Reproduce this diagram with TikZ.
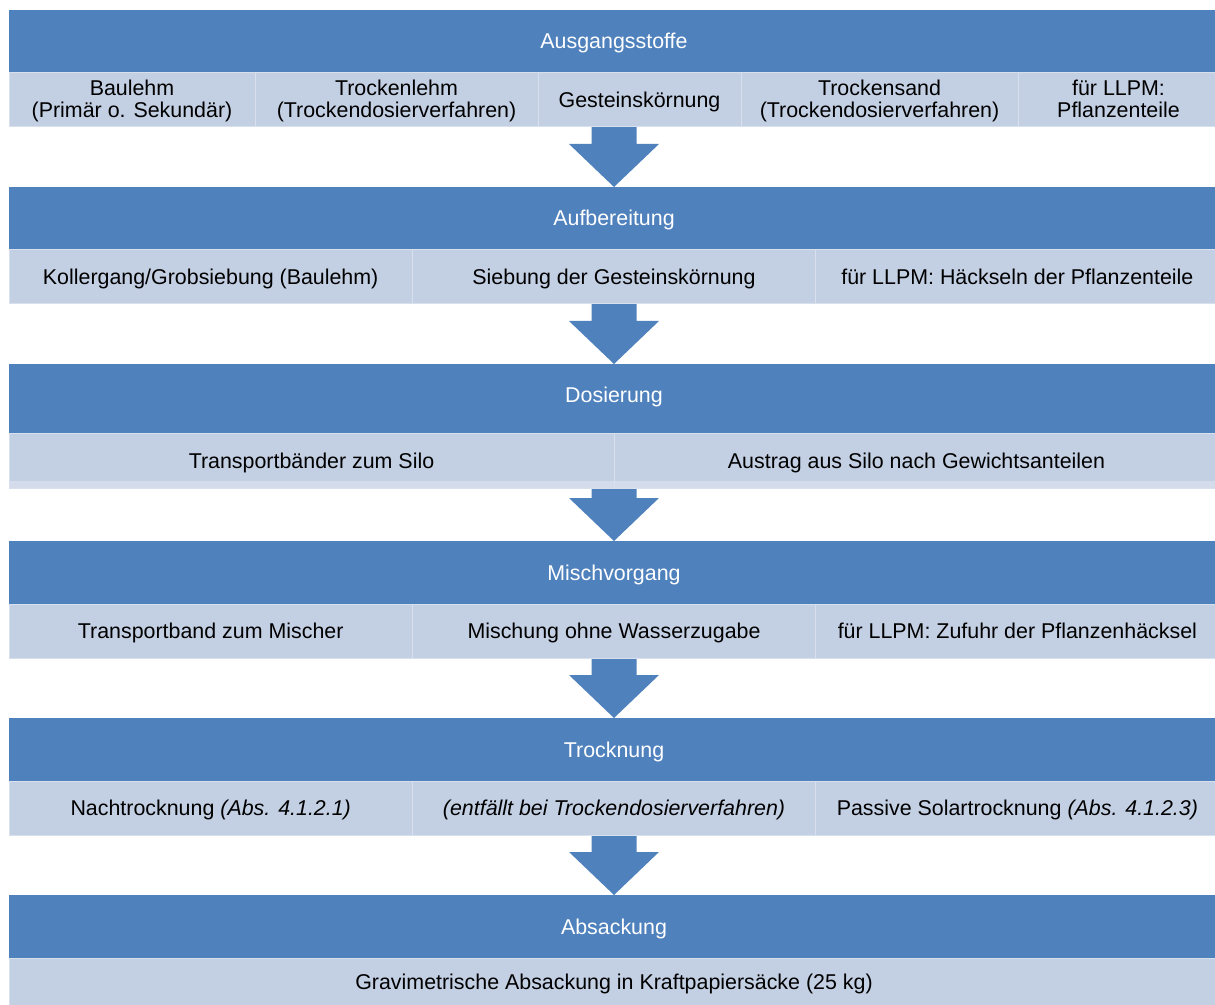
\documentclass[tikz,border=0pt]{standalone}
\usepackage{fontspec}
\setmainfont{Liberation Sans}
\usepackage{tikz}
\usetikzlibrary{positioning, backgrounds}

\definecolor{kopfblau}{HTML}{4F81BD}
\definecolor{zeilenblau}{HTML}{C3CFE3}
\definecolor{blassblau}{HTML}{D4DCEB}

% Blockpfeil von einem Knoten zum naechsten
\newcommand{\pfeil}[2]{%
  \fill[kopfblau] ([xshift=-11.25pt]#1) -- ([xshift=-11.25pt,yshift=21.5pt]#2)
    -- ([xshift=-22.5pt,yshift=21.5pt]#2) -- (#2)
    -- ([xshift=22.5pt,yshift=21.5pt]#2) -- ([xshift=11.25pt,yshift=21.5pt]#2)
    -- ([xshift=11.25pt]#1) -- cycle;}
% zweizeiliger Zellentext
\newcommand{\zweizeilen}[2]{\rule{0pt}{9.25pt}#1\\#2\rule[-2.5pt]{0pt}{2.5pt}}

\begin{document}
\begin{tikzpicture}[
          font=\fontsize{10.7}{11}\selectfont,
          kopf/.style = {fill=kopfblau, text=white, minimum width=605pt, minimum height=31.5pt, inner sep=0pt, outer sep=0pt, text height=7.5pt, text depth=0pt},
          zelle/.style = {fill=zeilenblau, draw=white!35!zeilenblau, line width=0.5pt, minimum height=27pt, inner sep=0pt, outer sep=0pt, align=center},
          einzeilig/.style = {text height=7.5pt, text depth=0pt},
          blassrand/.style = {path picture={\fill[blassblau] (path picture bounding box.south west) rectangle ([yshift=3.5pt]path picture bounding box.south east);}}
         ]
        \useasboundingbox (0,0) rectangle (607.5pt,-502.5pt);

        % Ausgangsstoffe
        \node[kopf, anchor=north west] (kopf1) at (4.5pt,-5pt) {Ausgangsstoffe};
        \node[zelle, minimum width=123pt, below right=0pt and 0pt of kopf1.south west] (stoff1) {\zweizeilen{Baulehm}{(Primär o. Sekundär)}};
        \node[zelle, minimum width=141.5pt, right=0pt of stoff1] (stoff2) {\zweizeilen{Trockenlehm}{(Trockendosierverfahren)}};
        \node[zelle, einzeilig, minimum width=101.5pt, right=0pt of stoff2] (stoff3) {Gesteinskörnung};
        \node[zelle, minimum width=138.5pt, right=0pt of stoff3] (stoff4) {\zweizeilen{Trockensand}{(Trockendosierverfahren)}};
        \node[zelle, minimum width=100.5pt, right=0pt of stoff4] (stoff5) {\zweizeilen{für LLPM:}{Pflanzenteile}};

        % Aufbereitung
        \node[kopf, below=57pt of kopf1] (kopf2) {Aufbereitung};
        \node[zelle, einzeilig, minimum width=201.67pt, below right=0pt and 0pt of kopf2.south west] (auf1) {Kollergang/Grobsiebung (Baulehm)};
        \node[zelle, einzeilig, minimum width=201.67pt, right=0pt of auf1] (auf2) {Siebung der Gesteinskörnung};
        \node[zelle, einzeilig, minimum width=201.67pt, right=0pt of auf2] (auf3) {für LLPM: Häckseln der Pflanzenteile};

        % Dosierung
        \node[kopf, minimum height=35pt, text depth=4pt, below=57pt of kopf2] (kopf3) {Dosierung};
        \node[zelle, einzeilig, blassrand, minimum width=302.5pt, below right=0pt and 0pt of kopf3.south west] (dos1) {Transportbänder zum Silo};
        \node[zelle, einzeilig, blassrand, minimum width=302.5pt, right=0pt of dos1] (dos2) {Austrag aus Silo nach Gewichtsanteilen};

        % Mischvorgang
        \node[kopf, below=53.5pt of kopf3] (kopf4) {Mischvorgang};
        \node[zelle, einzeilig, minimum width=201.67pt, below right=0pt and 0pt of kopf4.south west] (misch1) {Transportband zum Mischer};
        \node[zelle, einzeilig, minimum width=201.67pt, right=0pt of misch1] (misch2) {Mischung ohne Wasserzugabe};
        \node[zelle, einzeilig, minimum width=201.67pt, right=0pt of misch2] (misch3) {für LLPM: Zufuhr der Pflanzenhäcksel};

        % Trocknung
        \node[kopf, below=57pt of kopf4] (kopf5) {Trocknung};
        \node[zelle, einzeilig, minimum width=201.67pt, below right=0pt and 0pt of kopf5.south west] (trock1) {Nachtrocknung \textit{(Abs. 4.1.2.1)}};
        \node[zelle, einzeilig, minimum width=201.67pt, right=0pt of trock1] (trock2) {\textit{(entfällt bei Trockendosierverfahren)}};
        \node[zelle, einzeilig, minimum width=201.67pt, right=0pt of trock2] (trock3) {Passive Solartrocknung \textit{(Abs. 4.1.2.3)}};

        % Absackung
        \node[kopf, below=57pt of kopf5] (kopf6) {Absackung};
        \node[zelle, einzeilig, minimum width=605pt, minimum height=23.5pt, below=0pt of kopf6] (sack1) {Gravimetrische Absackung in Kraftpapiersäcke (25 kg)};

        % Pfeile
        \begin{scope}[on background layer]
          \pfeil{kopf1.south}{kopf2.north}
          \pfeil{kopf2.south}{kopf3.north}
          \pfeil{kopf3.south}{kopf4.north}
          \pfeil{kopf4.south}{kopf5.north}
          \pfeil{kopf5.south}{kopf6.north}
        \end{scope}

\end{tikzpicture}
\end{document}
